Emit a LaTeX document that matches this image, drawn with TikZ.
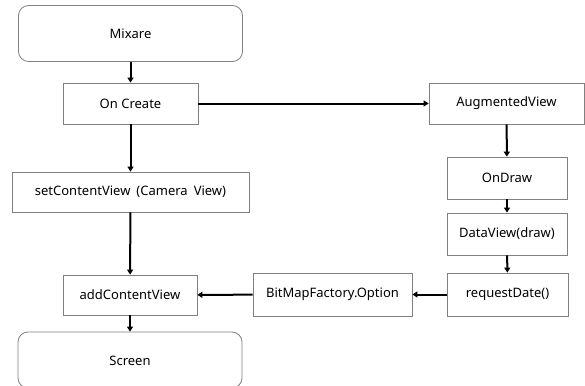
\documentclass[tikz,border=0pt]{standalone}
\usepackage{fontspec}
\setmainfont{Noto Sans}
\usetikzlibrary{arrows.meta}
\definecolor{boxline}{HTML}{808080}
\tikzset{
  blk/.style={draw=boxline, line width=0.8pt, fill=white, font=\fontsize{13}{15}\selectfont, inner sep=0pt},
  rbox/.style={blk, rounded corners=10pt},
  conn/.style={line width=2pt, -{Triangle[length=5pt,width=6pt]}}
}
\begin{document}
\begin{tikzpicture}[x=1pt,y=-1pt]
\useasboundingbox (0,0) rectangle (585,385);
\node[rbox, minimum width=224pt, minimum height=56pt] (mixare) at (130.5,33.5) {Mixare};
\node[blk, minimum width=135pt, minimum height=41pt] (oncreate) at (130.5,103.5) {On Create};
\node[blk, minimum width=237pt, minimum height=40pt] (setcv) at (130.5,192) {setContentView\hspace{6pt}(Camera\hspace{6pt}View)};
\node[blk, minimum width=134pt, minimum height=40pt] (addcv) at (130,295) {addContentView};
\node[rbox, minimum width=224pt, minimum height=56pt] (screen) at (130,360) {};
\node[font=\fontsize{13}{15}\selectfont] (screentxt) at (130,361) {Screen};
\node[blk, minimum width=155pt, minimum height=41pt] (augview) at (506.5,103.5) {AugmentedView};
\node[blk, minimum width=120pt, minimum height=42pt] (ondraw) at (507,178) {OnDraw};
\node[blk, minimum width=120pt, minimum height=42pt] (dataview) at (507,234) {DataView(draw)};
\node[blk, minimum width=121pt, minimum height=43pt] (reqdate) at (507.5,294.5) {requestDate()};
\node[blk, minimum width=159pt, minimum height=43pt] (bitmap) at (332.5,294.5) {BitMapFactory.Option};
\draw[conn] (mixare) -- (oncreate);
\draw[conn] (oncreate) -- (setcv);
\draw[conn] (setcv) -- (addcv);
\draw[conn] (addcv) -- (screen);
\draw[conn] (oncreate) -- (augview);
\draw[conn] (augview) -- (ondraw);
\draw[conn] (ondraw) -- (dataview);
\draw[conn] (dataview) -- (reqdate);
\draw[conn] (reqdate) -- (bitmap);
\draw[conn] (bitmap) -- (addcv);
\end{tikzpicture}
\end{document}
